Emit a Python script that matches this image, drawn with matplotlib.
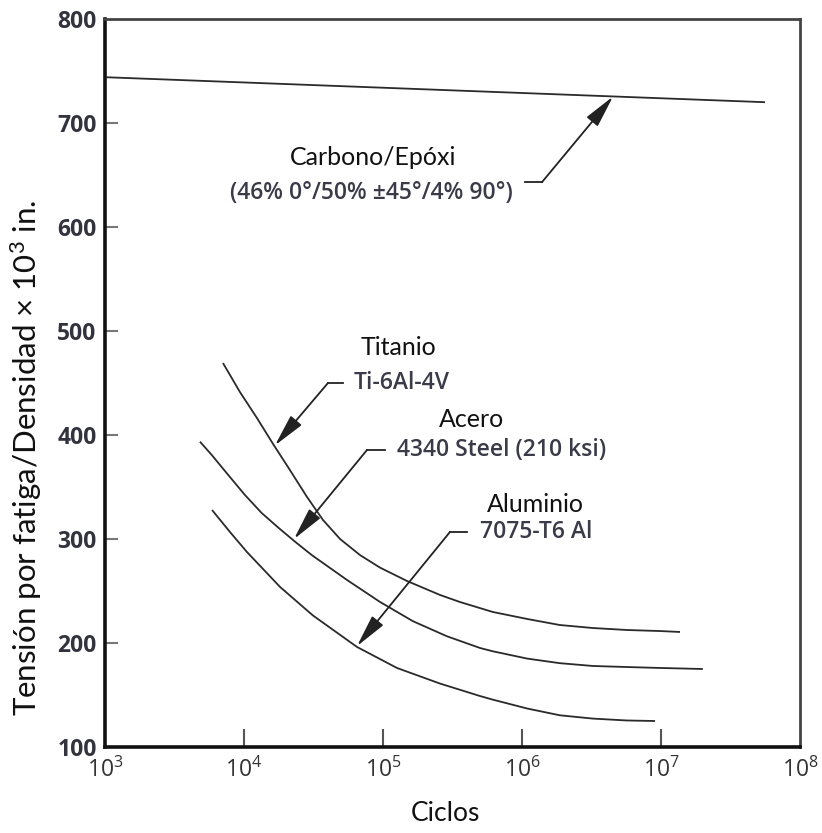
import matplotlib
matplotlib.use("Agg")
import matplotlib.pyplot as plt
import numpy as np

# ---------------- data ----------------
carbon_x = [1.02e3, 5.6e7]
carbon_y = [744, 720]

ti_x = [7.06e3, 9.35e3, 1.24e4, 1.62e4, 2.14e4, 2.84e4, 3.70e4, 4.91e4, 6.84e4, 9.51e4,
        1.49e5, 2.57e5, 3.58e5, 6.18e5, 1.09e6, 1.87e6, 3.24e6, 5.69e6, 9.84e6, 1.37e7]
ti_y = [469.2, 441.3, 416.3, 391.3, 366.3, 340.4, 318.3, 300.0, 284.5, 272.5,
        259.6, 246.2, 239.4, 229.8, 223.1, 217.3, 214.4, 212.5, 211.5, 210.6]

st_x = [4.82e3, 5.86e3, 7.71e3, 1.016e4, 1.34e4, 1.77e4, 2.33e4, 3.07e4, 5.51e4, 9.51e4,
        1.64e5, 2.88e5, 4.99e5, 6.18e5, 1.09e6, 1.87e6, 3.24e6, 5.69e6, 9.84e6, 2.00e7]
st_y = [393.6, 380.8, 361.5, 342.3, 325.0, 310.8, 297.4, 284.6, 260.6, 239.5,
        221.0, 206.5, 195.2, 192.0, 185.0, 180.6, 177.9, 176.9, 176.0, 175.0]

al_x = [5.89e3, 7.93e3, 1.05e4, 1.82e4, 3.13e4, 6.50e4, 1.26e5, 2.57e5, 4.99e5, 6.18e5,
        1.09e6, 1.87e6, 3.24e6, 5.69e6, 9.06e6]
al_y = [327.9, 306.7, 287.5, 253.8, 226.5, 196.2, 176.0, 161.0, 149.0, 145.5,
        137.0, 130.5, 127.3, 125.5, 125.0]

xticks = [1e3, 1e4, 1e5, 1e6, 1e7, 1e8]
xticklabels = [r"$10^{3}$", r"$10^{4}$", r"$10^{5}$", r"$10^{6}$", r"$10^{7}$", r"$10^{8}$"]
yticks = [100, 200, 300, 400, 500, 600, 700, 800]

# annotations: name, sub, title_xy, sub_xy, sub_ha, leader (x1, x2, y), arrow tip
ann = [
    ("Carbono/Epóxi", "(46% 0°/50% ±45°/4% 90°)", (8.47e4, 667), (8.3e4, 633), "center",
     (1.05e6, 1.39e6, 643), (4.52e6, 725.5)),
    ("Titanio", "Ti-6Al-4V", (1.30e5, 484), (6.18e4, 450), "left",
     (5.15e4, 4.02e4, 450), (1.67e4, 390)),
    ("Acero", "4340 Steel (210 ksi)", (4.3e5, 415), (1.26e5, 385.6), "left",
     (1.03e5, 7.67e4, 385.6), (2.29e4, 300)),
    ("Aluminio", "7075-T6 Al", (1.24e6, 333), (4.99e5, 306.7), "left",
     (4.02e5, 3.03e5, 306.7), (6.5e4, 197)),
]

# ---------------- figure ----------------
plt.rcParams['mathtext.default'] = 'regular'
fig = plt.figure(figsize=(8.22, 8.33), dpi=100)
ax = fig.add_axes([105/822, 1-747/833, 695/822, 728/833])

line_kw = dict(color="#2a2a2a", lw=1.3, solid_capstyle="butt", solid_joinstyle="round")
ax.plot(carbon_x, carbon_y, **line_kw)
ax.plot(ti_x, ti_y, **line_kw)
ax.plot(st_x, st_y, **line_kw)
ax.plot(al_x, al_y, **line_kw)

ax.set_xscale("log")
ax.set_xlim(1e3, 1e8)
ax.set_ylim(100, 800)

main_font = "Lato"
sub_font = "Open Sans"

for name, sub, txy, sxy, sha, hseg, tip in ann:
    ax.text(txy[0], txy[1], name, ha="center", va="center", fontsize=18,
            family=main_font, color="#111111")
    ax.text(sxy[0], sxy[1], sub, ha=sha, va="center", fontsize=16.5,
            family=sub_font, fontweight="semibold", color="#3a3a48")
    x1, x2, yy = hseg
    ax.plot([x1, x2], [yy, yy], color="#222222", lw=1.3)
    ax.annotate("", xy=tip, xytext=(x2, yy),
                arrowprops=dict(arrowstyle="-|>,head_length=1.0,head_width=0.22",
                                color="#222222", lw=1.3, mutation_scale=20,
                                shrinkA=0, shrinkB=0))

# ticks
ax.minorticks_off()
ax.set_xticks(xticks)
ax.set_xticklabels(xticklabels, fontsize=16.5, family=sub_font, color="#333333")
ax.set_yticks(yticks)
ax.set_yticklabels([str(v) for v in yticks], fontsize=16.5, family=sub_font,
                   fontweight="bold", color="#333340")
ax.tick_params(axis="x", direction="in", length=13, width=1.5, color="#555555", pad=8)
ax.tick_params(axis="y", direction="in", length=9, width=1.5, color="#777777", pad=6)
ax.xaxis.get_major_ticks()[0].tick1line.set_visible(False)
ax.xaxis.get_major_ticks()[-1].tick1line.set_visible(False)
ax.yaxis.get_major_ticks()[0].tick1line.set_visible(False)
ax.yaxis.get_major_ticks()[-1].tick1line.set_visible(False)

for s in ["left", "bottom"]:
    ax.spines[s].set_linewidth(2.6)
    ax.spines[s].set_color("#111111")
for s in ["top", "right"]:
    ax.spines[s].set_linewidth(2.0)
    ax.spines[s].set_color("#444444")

ax.set_xlabel("Ciclos", fontsize=19, family=main_font, color="#111111")
ax.xaxis.set_label_coords(0.49, -0.074)
ax.set_ylabel("Tensión por fatiga/Densidad × 10$^{3}$ in.", fontsize=22.5,
              family=[main_font, "DejaVu Sans"], color="#111111")
ax.yaxis.set_label_coords(-0.088, 0.397)

fig.savefig("out.png", dpi=100)
